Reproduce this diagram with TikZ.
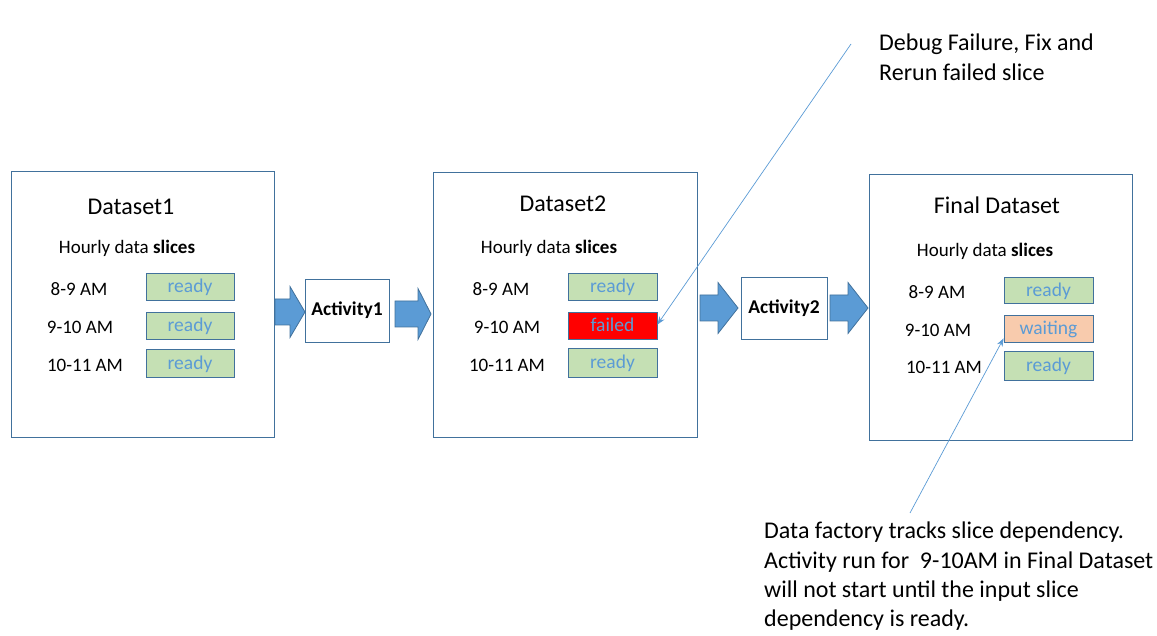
\documentclass[tikz,border=0pt]{standalone}
\usepackage{fontspec}
\setmainfont{Carlito}
\usetikzlibrary{arrows.meta}
\definecolor{edgeblue}{HTML}{41719C}
\definecolor{fillblue}{HTML}{5B9BD5}
\definecolor{readyfill}{HTML}{C5E0B4}
\definecolor{waitfill}{HTML}{F8CBAD}
\tikzset{
  dsbox/.style={draw=edgeblue, line width=0.9pt, fill=white, inner sep=0pt},
  actbox/.style={draw=edgeblue, line width=0.9pt, fill=white, inner sep=0pt, font=\fontsize{19.5}{23}\selectfont\bfseries},
  slicebox/.style={draw=edgeblue, line width=0.9pt, inner sep=0pt, text=fillblue, text height=13pt, text depth=0pt, font=\fontsize{19.5}{23}\selectfont},
  title/.style={font=\fontsize{24}{29}\selectfont, inner sep=0pt},
  sub/.style={font=\fontsize{19}{23}\selectfont, inner sep=0pt},
  rowlbl/.style={font=\fontsize{19}{23}\selectfont, inner sep=0pt},
  note/.style={font=\fontsize{24}{29.2}\selectfont, inner sep=0pt, align=left, anchor=north west},
  callout/.style={draw=fillblue, line width=0.7pt, -{Stealth[length=8pt,width=6pt]}},
  blockarrow/.style={fill=fillblue, draw=edgeblue, line width=0.8pt, line join=miter}
}
% body start x, head start x, tip x, mid y, half body, half head
\newcommand{\myblockarrow}[6]{%
  \path[blockarrow] (#1,#4-#5) -- (#2,#4-#5) -- (#2,#4-#6) -- (#3,#4) -- (#2,#4+#6) -- (#2,#4+#5) -- (#1,#4+#5) -- cycle;}
\begin{document}
\begin{tikzpicture}[x=1pt,y=-1pt]
\useasboundingbox (0,0) rectangle (1157,636);
% Dataset boxes
\node[dsbox, minimum width=263pt, minimum height=266pt] (ds1) at (142.5,304) {};
\node[dsbox, minimum width=264pt, minimum height=265pt] (ds2) at (565,304.5) {};
\node[dsbox, minimum width=263pt, minimum height=266pt] (ds3) at (1000.5,307) {};
% Activities
\node[actbox, minimum width=84pt, minimum height=63pt] (act1) at (347,310.5) {Activity1};
\node[actbox, minimum width=86pt, minimum height=62pt] (act2) at (784,308) {Activity2};
% Block arrows
\myblockarrow{275}{290}{305}{312}{13}{25.5}
\myblockarrow{395}{418}{431}{314}{13}{25.5}
\myblockarrow{700}{718}{738}{308}{13}{25.5}
\myblockarrow{830}{848}{868}{308}{13}{25.5}
% Dataset1 contents
\node[title] (t1) at (131,207) {Dataset1};
\node[sub] (h1) at (127,248) {Hourly data \textbf{slices}};
\node[rowlbl] (r11) at (79,289) {8-9 AM};
\node[rowlbl] (r12) at (80,327) {9-10 AM};
\node[rowlbl] (r13) at (85,365) {10-11 AM};
\node[slicebox, fill=readyfill, minimum width=88pt, minimum height=27pt] (s11) at (190,286.5) {ready};
\node[slicebox, fill=readyfill, minimum width=88pt, minimum height=27pt] (s12) at (190,325.5) {ready};
\node[slicebox, fill=readyfill, minimum width=88pt, minimum height=28pt] (s13) at (190,363) {ready};
% Dataset2 contents
\node[title] (t2) at (563,204) {Dataset2};
\node[sub] (h2) at (549,248) {Hourly data \textbf{slices}};
\node[rowlbl] (r21) at (501,289) {8-9 AM};
\node[rowlbl] (r22) at (507,327) {9-10 AM};
\node[rowlbl] (r23) at (507,365) {10-11 AM};
\node[slicebox, fill=readyfill, minimum width=89pt, minimum height=27pt] (s21) at (612.5,286.5) {ready};
\node[slicebox, fill=red, minimum width=89pt, minimum height=27pt] (s22) at (612.5,325.5) {failed};
\node[slicebox, fill=readyfill, minimum width=89pt, minimum height=29pt] (s23) at (612.5,362.5) {ready};
% Final dataset contents
\node[title] (t3) at (997,205) {Final Dataset};
\node[sub] (h3) at (985,251) {Hourly data \textbf{slices}};
\node[rowlbl] (r31) at (937,292) {8-9 AM};
\node[rowlbl] (r32) at (938,330) {9-10 AM};
\node[rowlbl] (r33) at (944,367) {10-11 AM};
\node[slicebox, fill=readyfill, minimum width=89pt, minimum height=26pt] (s31) at (1048.5,290) {ready};
\node[slicebox, fill=waitfill, minimum width=89pt, minimum height=27pt] (s32) at (1048.5,328.5) {waiting};
\node[slicebox, fill=readyfill, minimum width=89pt, minimum height=29pt] (s33) at (1048.5,365.5) {ready};
% Notes
\node[note] (n1) at (879,34) {Debug Failure, Fix and\\Rerun failed slice};
\node[note] (n2) at (764,522) {Data factory tracks slice dependency.\\Activity run for\ \ 9-10AM in Final Dataset\\will not start until the input slice\\dependency is ready.};
\coordinate (c1) at (851,44);
\coordinate (c2) at (910,513);
\draw[callout] (c1) -- ([yshift=1pt]s22.east);
\draw[callout] (c2) -- ([yshift=4pt]s32.south west);
\end{tikzpicture}
\end{document}
